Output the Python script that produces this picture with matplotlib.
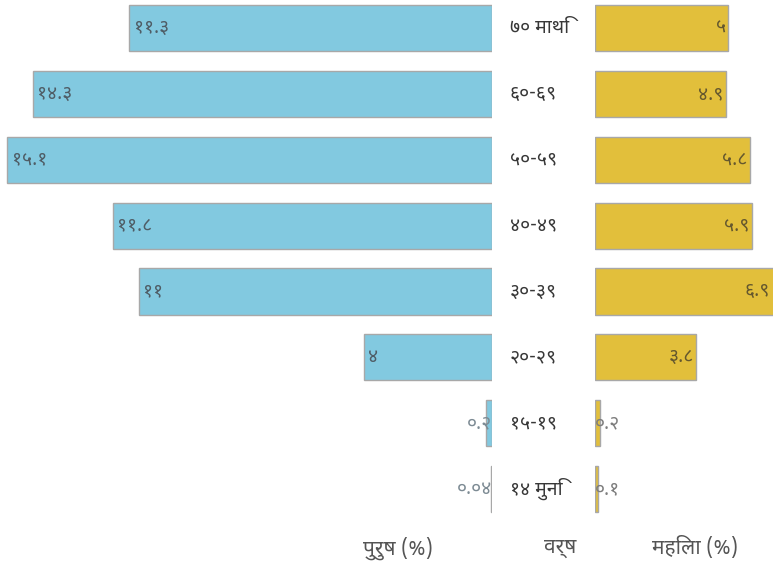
import matplotlib
matplotlib.use('Agg')
import matplotlib.pyplot as plt
from matplotlib import font_manager

# age groups, top to bottom
age_groups = ['७० माथि', '६०-६९', '५०-५९', '४०-४९', '३०-३९', '२०-२९', '१५-१९', '१४ मुनि']
male = [11.3, 14.3, 15.1, 11.8, 11, 4, 0.2, 0.04]
female = [5, 4.9, 5.8, 5.9, 6.9, 3.8, 0.2, 0.1]
male_labels = ['११.३', '१४.३', '१५.१', '११.८', '११', '४', '०.२', '०.०४']
female_labels = ['५', '४.९', '५.८', '५.९', '६.९', '३.८', '०.२', '०.१']

# pick a Devanagari family that is installed
names = {f.name for f in font_manager.fontManager.ttflist}
wanted = ['Noto Sans Devanagari', 'Mukta', 'Hind', 'Lohit Devanagari', 'FreeSans']
deva = next((n for n in wanted if n in names), 'FreeSans')
plt.rcParams['font.family'] = [deva, 'DejaVu Sans']

fig = plt.figure(figsize=(7.73, 5.63), dpi=100)
W, H = 773, 563
bottom = 41 / H
height = 1 - bottom
ax_m = fig.add_axes([0, bottom, 492 / W, height])
ax_c = fig.add_axes([492 / W, bottom, 103 / W, height])
ax_f = fig.add_axes([595 / W, bottom, 178 / W, height])

y = list(range(len(age_groups)))
ax_m.barh(y, male, height=0.7, color='#82c9e0', edgecolor='#a8a8a8', linewidth=1)
ax_f.barh(y, female, height=0.7, color='#e2bf3b', edgecolor='#a8a8a8', linewidth=1)

ax_m.set_xlim(15.33, 0)
ax_f.set_xlim(0, 6.67)
for ax in (ax_m, ax_c, ax_f):
    ax.set_ylim(7.5, -0.425)
    ax.axis('off')

for i, (v, t) in enumerate(zip(male, male_labels)):
    if v > 2:
        ax_m.annotate(t, (v, i), xytext=(3, 0), textcoords='offset points',
                      ha='left', va='center', fontsize=14, color='#4f5d66')
    else:
        ax_m.annotate(t, (0, i), xytext=(0, 0), textcoords='offset points',
                      ha='right', va='center', fontsize=14, color='#7d8b94')

for i, (v, t) in enumerate(zip(female, female_labels)):
    if v > 2:
        ax_f.annotate(t, (min(v, 6.67), i), xytext=(-2, 0), textcoords='offset points',
                      ha='right', va='center', fontsize=14, color='#65582e')
    else:
        ax_f.annotate(t, (0, i), xytext=(0, 0), textcoords='offset points',
                      ha='left', va='center', fontsize=14, color='#7d7d7d')

ax_c.set_xlim(0, 1)
for i, g in enumerate(age_groups):
    ax_c.text(0.17, i, g, ha='left', va='center', fontsize=14, color='#383838')

fig.text(398 / W, 15 / H, 'पुरुष (%)', ha='center', va='center', fontsize=15, color='#555555')
fig.text(560 / W, 15 / H, 'वर्ष', ha='center', va='center', fontsize=15, color='#555555')
fig.text(695 / W, 15 / H, 'महिला (%)', ha='center', va='center', fontsize=15, color='#555555')

fig.savefig('out.png', dpi=100)
